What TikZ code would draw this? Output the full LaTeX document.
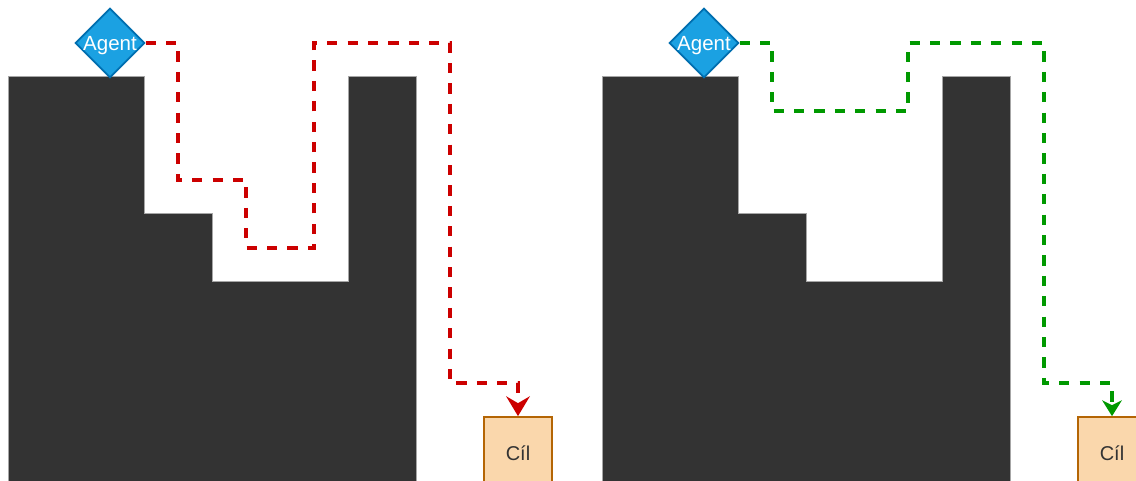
\documentclass[tikz,border=0pt]{standalone}
\usepackage{fontspec}
\setmainfont{Liberation Sans}
\usetikzlibrary{shapes.geometric,arrows.meta}
\definecolor{wallfill}{HTML}{333333}
\definecolor{walledge}{HTML}{A6A6A6}
\definecolor{agentfill}{HTML}{1BA1E2}
\definecolor{agentedge}{HTML}{006EAF}
\definecolor{goalfill}{HTML}{FAD7AC}
\definecolor{goaledge}{HTML}{B46504}
\definecolor{goaltext}{HTML}{333333}
\definecolor{badpath}{HTML}{CC0000}
\definecolor{goodpath}{HTML}{009900}
\tikzset{
  wall/.style={fill=wallfill, draw=walledge, line width=1pt},
  agentnode/.style={diamond, fill=agentfill, draw=agentedge, line width=1.7pt,
    minimum width=68pt, minimum height=68pt, inner sep=0pt, text=white,
    text height=16pt, text depth=0pt,
    font=\fontsize{20.5}{22}\selectfont},
  goalnode/.style={rectangle, fill=goalfill, draw=goaledge, line width=1.7pt,
    minimum width=68pt, minimum height=68pt, inner sep=0pt, text=goaltext,
    text height=18pt, text depth=0pt,
    font=\fontsize{20}{22}\selectfont},
  route/.style={line width=3.4pt, dash pattern=on 10.2pt off 10.2pt},
  badroute/.style={route, draw=badpath,
    -{Stealth[length=20pt, width=24pt, inset=7pt, line width=0pt]}},
  goodroute/.style={route, draw=goodpath,
    -{Stealth[length=16pt, width=20pt, inset=5pt, line width=0pt]}},
  pics/maze/.style={code={
    \draw[wall] (8,77) -- (144,77) -- (144,214) -- (212,214) -- (212,282)
      -- (348,282) -- (348,77) -- (416,77) -- (416,500) -- (8,500) -- cycle;
  }}
}
\begin{document}
\begin{tikzpicture}[x=1pt, y=-1pt]
\useasboundingbox (0,0) rectangle (1136,481);
\clip (0,0) rectangle (1136,481);

% two copies of the same maze
\pic at (0,0) {maze};
\pic at (594,0) {maze};

% left panel: detour through the pockets
\node[agentnode] (agentL) at (110,43) {Agent};
\node[goalnode] (goalL) at (518,451) {Cíl};
\draw[badroute] (agentL.east) -- (178,43) -- (178,180) -- (246,180)
  -- (246,248) -- (314,248) -- (314,43) -- (450,43) -- (450,383)
  -- (518,383) -- (goalL.north);

% right panel: shorter route
\node[agentnode] (agentR) at (704,43) {Agent};
\node[goalnode] (goalR) at (1112,451) {Cíl};
\draw[goodroute] (agentR.east) -- (772,43) -- (772,111) -- (908,111)
  -- (908,43) -- (1044,43) -- (1044,383) -- (1112,383) -- (goalR.north);
\end{tikzpicture}
\end{document}
